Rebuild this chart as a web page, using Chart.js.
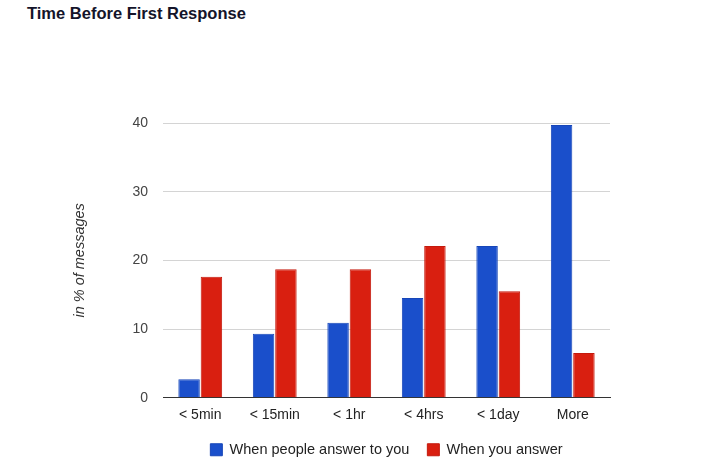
<!DOCTYPE html>
<html>
<head>
<meta charset="utf-8">
<script src="https://cdn.jsdelivr.net/npm/chart.js@4"></script>
<style>
  html, body { margin: 0; padding: 0; background: #fff; }
  #wrap { position: relative; width: 720px; height: 465px; }
  #title { position: absolute; left: 27px; top: 4px; font-family: "Liberation Sans", Arial, sans-serif; font-weight: bold; font-size: 16.5px; color: #14142a; letter-spacing: 0px; }
  canvas { position: absolute; left: 0; top: 0; }
</style>
</head>
<body>
<div id="wrap">
  <div id="title">Time Before First Response</div>
  <canvas id="c" width="720" height="465"></canvas>
</div>
<script>
const categories = ["< 5min", "< 15min", "< 1hr", "< 4hrs", "< 1day", "More"];
const peopleAnswerYou = [2.7, 9.3, 10.9, 14.5, 22.1, 39.7];
const youAnswer = [17.6, 18.7, 18.7, 22.1, 15.5, 6.5];
const seriesNames = ["When people answer to you", "When you answer"];
const yTicks = [0, 10, 20, 30, 40];

const FONT = "'Liberation Sans', Arial, sans-serif";

new Chart(document.getElementById('c'), {
  type: 'bar',
  data: {
    labels: categories,
    datasets: [
      { label: seriesNames[0], data: peopleAnswerYou, backgroundColor: '#1a4fcb', borderColor: '#1746b8', borderWidth: 1, categoryPercentage: 0.6, barPercentage: 0.96 },
      { label: seriesNames[1], data: youAnswer, backgroundColor: '#d91f10', borderColor: '#c41a0d', borderWidth: 1, categoryPercentage: 0.6, barPercentage: 0.96 }
    ]
  },
  options: {
    responsive: false,
    animation: false,
    devicePixelRatio: 1,
    layout: { padding: { left: 67, right: 110, top: 123, bottom: -2 } },
    plugins: {
      title: { display: false },
      tooltip: { enabled: false },
      legend: {
        position: 'bottom',
        fullSize: false,
        labels: {
          boxWidth: 12, boxHeight: 12, padding: 18,
          color: '#222', font: { family: FONT, size: 14.5 }
        }
      }
    },
    scales: {
      x: {
        grid: { display: false },
        border: { display: true, color: '#333', width: 1 },
        ticks: { color: '#222', font: { family: FONT, size: 14 }, padding: 1, maxRotation: 0 }
      },
      y: {
        min: 0, max: 40,
        afterBuildTicks: (s) => { s.ticks = yTicks.map(v => ({ value: v })); },
        afterFit: (s) => { s.width = 96; },
        grid: { color: '#d4d4d4', lineWidth: 1, drawTicks: false },
        border: { display: false },
        ticks: { color: '#444', font: { family: FONT, size: 14 }, padding: 15 },
        title: { display: true, text: 'in % of messages', color: '#333', font: { family: FONT, size: 14.5, style: 'italic' }, padding: { top: 4, bottom: 4 } }
      }
    }
  }
});
</script>
</body>
</html>
